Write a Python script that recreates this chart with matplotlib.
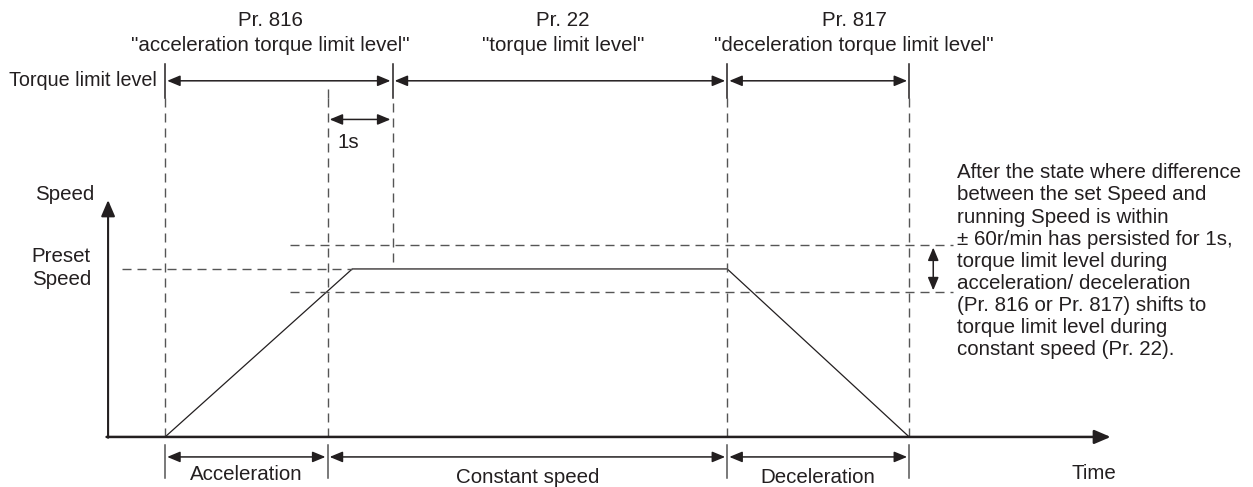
import matplotlib.pyplot as plt

plt.rcParams['font.family'] = ['Liberation Sans', 'DejaVu Sans']
plt.rcParams['lines.scale_dashes'] = False

# time marks (s), 1 s = width of the "1s" arrow
t_start = 0.0        # acceleration starts
t_acc_end = 2.5      # acceleration time ends
t_preset = 2.88      # preset speed reached
t_1s = 3.5           # 1 s after entering the +/-60 r/min band
t_dec_start = 8.65   # deceleration starts
t_dec_end = 11.45    # deceleration ends
t_axis_end = 14.55

# speed profile (% of preset speed)
speed_t = [t_start, t_preset, t_dec_start, t_dec_end]
speed_v = [0, 100, 100, 0]
preset = 100
band = 14            # +/-60 r/min band (exaggerated as drawn)
v_axis_top = 141

# label texts
top_labels = ['Pr. 816\n"acceleration torque limit level"',
              'Pr. 22\n"torque limit level"',
              'Pr. 817\n"deceleration torque limit level"']
top_label_x = [1.62, 6.12, 10.6]
bottom_labels = ['Acceleration', 'Constant speed', 'Deceleration']
note = ('After the state where difference\n'
        'between the set Speed and\n'
        'running Speed is within\n'
        '\u00b1 60r/min has persisted for 1s,\n'
        'torque limit level during\n'
        'acceleration/ deceleration\n'
        '(Pr. 816 or Pr. 817) shifts to\n'
        'torque limit level during\n'
        'constant speed (Pr. 22).')

ink = '#231f20'
dash_c = '#555555'
dash = (0, (6.5, 4.3))
fs = 14.8

fig = plt.figure(figsize=(12.53, 4.87), dpi=100)
ax = fig.add_axes([0, 0, 1, 1])
ax.set_xlim(-2.54, 16.74)
ax.set_ylim(-29.8, 260.1)
ax.axis('off')


def darrow(x0, y0, x1, y1, lw=1.1):
    ax.annotate('', xy=(x1, y1), xytext=(x0, y0),
                arrowprops=dict(arrowstyle='<|-|>,head_length=0.65,head_width=0.27',
                                mutation_scale=12, lw=lw, color=ink,
                                shrinkA=1.5, shrinkB=1.5))


# axes of the speed diagram
ax.annotate('', xy=(-0.877, v_axis_top), xytext=(-0.877, -0.5),
            arrowprops=dict(arrowstyle='-|>,head_length=0.7,head_width=0.3',
                            mutation_scale=14, lw=1.5, color=ink,
                            shrinkA=0, shrinkB=0))
ax.annotate('', xy=(t_axis_end, 0), xytext=(-0.9, 0),
            arrowprops=dict(arrowstyle='-|>,head_length=0.7,head_width=0.3',
                            mutation_scale=14, lw=1.8, color=ink,
                            shrinkA=0, shrinkB=0))

# speed profile
ax.plot(speed_t, speed_v, color=ink, lw=0.9)

# dashed guides
for t in [t_start, t_acc_end, t_dec_start, t_dec_end]:
    ax.plot([t, t], [0, 202], color=dash_c, lw=1.0, ls=dash)
ax.plot([t_acc_end, t_acc_end], [202, 210], color=dash_c, lw=1.0, ls=dash)
ax.plot([t_1s, t_1s], [104, 202], color=dash_c, lw=1.0, ls=dash)
ax.plot([-0.66, t_preset], [preset, preset], color=dash_c, lw=1.0, ls=dash)
for v in [preset + band, preset - band]:
    ax.plot([1.92, 12.12], [v, v], color=dash_c, lw=1.0, ls=dash)

# torque limit level row
for t in [t_start, t_1s, t_dec_start, t_dec_end]:
    ax.plot([t, t], [202, 222], color=ink, lw=1.1)
darrow(t_start, 212, t_1s, 212)
darrow(t_1s, 212, t_dec_start, 212)
darrow(t_dec_start, 212, t_dec_end, 212)
ax.text(-0.12, 212, 'Torque limit level', ha='right', va='center', fontsize=14.2, color=ink)
for x, s in zip(top_label_x, top_labels):
    ax.text(x, 240.5, s, ha='center', va='center', fontsize=fs, color=ink,
            linespacing=1.38)

# 1 s arrow
darrow(t_acc_end, 189, t_1s, 189)
ax.text(2.82, 175, '1s', ha='center', va='center', fontsize=fs, color=ink)

# +/- band arrow and note
darrow(11.82, preset + band, 11.82, preset - band)
ax.text(12.18, 104.5, note, ha='left', va='center', fontsize=fs, color=ink,
        linespacing=1.21)

# axis labels
ax.text(-1.55, 144.6, 'Speed', ha='center', va='center', fontsize=fs, color=ink)
ax.text(-2.05, 100.6, 'Preset\nSpeed', ha='left', va='center', fontsize=fs,
        color=ink, linespacing=1.21)
ax.text(14.29, -22, 'Time', ha='center', va='center', fontsize=fs, color=ink)

# acceleration / constant / deceleration row
phase_t = [t_start, t_acc_end, t_dec_start, t_dec_end]
for t in phase_t:
    ax.plot([t, t], [-4.8, -24.4], color='#555555', lw=1.1)
label_y = [-22.4, -24.4, -24.4]
for i, s in enumerate(bottom_labels):
    darrow(phase_t[i], -11.9, phase_t[i + 1], -11.9)
    ax.text((phase_t[i] + phase_t[i + 1]) / 2, label_y[i], s, ha='center',
            va='center', fontsize=fs, color=ink)

fig.savefig('out.png', dpi=100)
